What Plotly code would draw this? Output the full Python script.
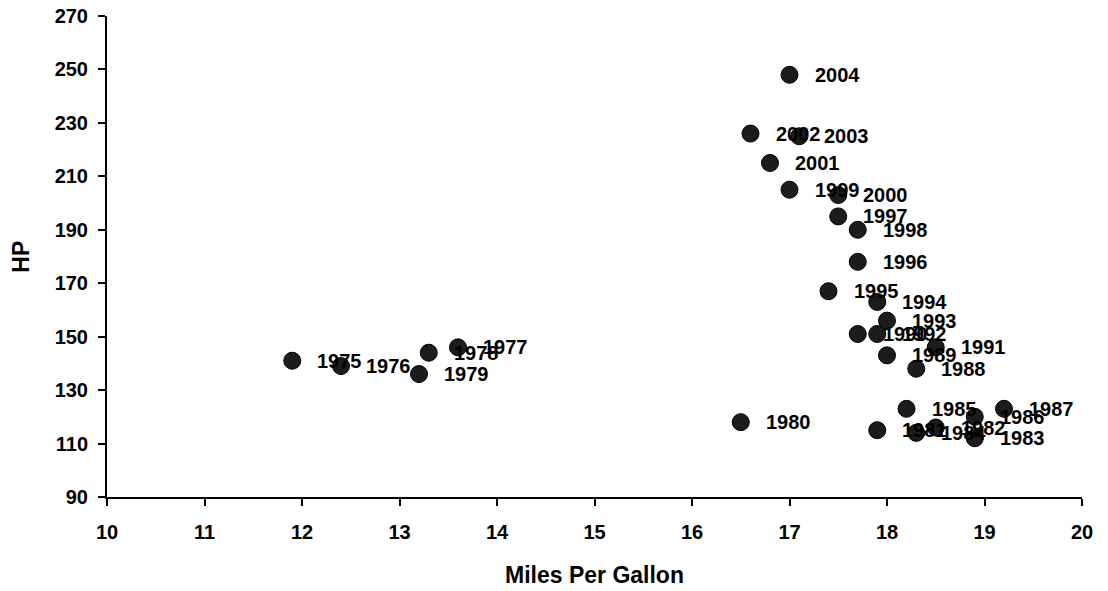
import plotly.graph_objects as go

years = ["1975", "1976", "1977", "1978", "1979", "1980", "1981", "1982", "1983", "1984",
         "1985", "1986", "1987", "1988", "1989", "1990", "1991", "1992", "1993", "1994",
         "1995", "1996", "1997", "1998", "1999", "2000", "2001", "2002", "2003", "2004"]
mpg = [11.9, 12.4, 13.6, 13.3, 13.2, 16.5, 17.9, 18.5, 18.9, 18.3,
       18.2, 18.9, 19.2, 18.3, 18.0, 17.7, 18.5, 17.9, 18.0, 17.9,
       17.4, 17.7, 17.5, 17.7, 17.0, 17.5, 16.8, 16.6, 17.1, 17.0]
hp = [141, 139, 146, 144, 136, 118, 115, 116, 112, 114,
      123, 120, 123, 138, 143, 151, 146, 151, 156, 163,
      167, 178, 195, 190, 205, 203, 215, 226, 225, 248]

x_ticks = list(range(10, 21))
y_ticks = list(range(90, 271, 20))

FONT = "Liberation Sans, Arial, sans-serif"
tick_size = 20
label_size = 20
title_size = 23

fig = go.Figure()
fig.add_trace(go.Scatter(
    x=mpg, y=hp, mode="markers",
    marker=dict(size=17, color="#1c1c1c", line=dict(color="#000000", width=1)),
    showlegend=False, hoverinfo="x+y",
))

annotations = []
for yr, xv, yv in zip(years, mpg, hp):
    annotations.append(dict(
        x=xv, y=yv, xref="x", yref="y", text=yr, showarrow=False,
        xanchor="left", yanchor="middle", xshift=23,
        font=dict(family=FONT, size=label_size, color="#000000", weight="bold"),
    ))

annotations.append(dict(
    x=0.5, y=-0.162, xref="paper", yref="paper", text="Miles Per Gallon",
    showarrow=False, xanchor="center", yanchor="middle",
    font=dict(family=FONT, size=title_size, color="#000000", weight="bold"),
))
annotations.append(dict(
    x=-0.089, y=0.5, xref="paper", yref="paper", text="HP", textangle=-90,
    showarrow=False, xanchor="center", yanchor="middle",
    font=dict(family=FONT, size=title_size, color="#000000", weight="bold"),
))

axis_common = dict(
    showgrid=False, zeroline=False, showline=True, linecolor="#000000", linewidth=2,
    ticks="outside", ticklen=7, tickwidth=2, tickcolor="#000000",
    ticklabeloverflow="allow", automargin=False,
    tickfont=dict(family=FONT, size=tick_size, color="#000000", weight="bold"),
)

fig.update_layout(
    width=1100, height=583,
    margin=dict(l=99, r=26, t=8, b=94),
    paper_bgcolor="#ffffff", plot_bgcolor="#ffffff",
    xaxis=dict(range=[10, 20], tickvals=x_ticks, ticktext=[str(v) for v in x_ticks],
               ticklabelstandoff=9, **axis_common),
    yaxis=dict(range=[90, 270], tickvals=y_ticks, ticktext=[str(v) for v in y_ticks],
               ticklabelstandoff=6, **axis_common),
    annotations=annotations,
)

fig.write_html("out.html")
